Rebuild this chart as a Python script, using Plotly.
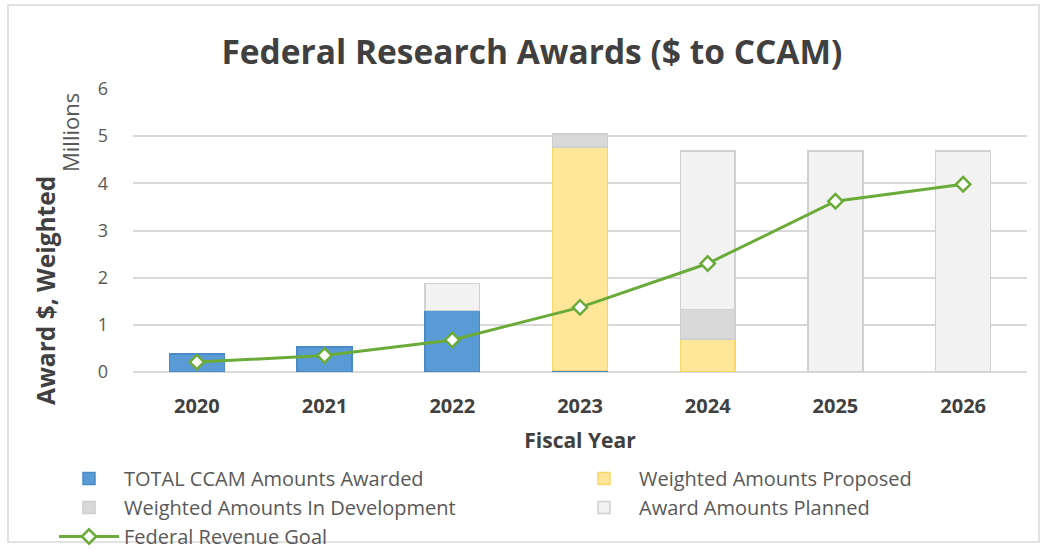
import plotly.graph_objects as go

years = ["2020", "2021", "2022", "2023", "2024", "2025", "2026"]
awarded = [0.38, 0.53, 1.30, 0.03, None, None, None]
proposed = [None, None, None, 4.74, 0.70, None, None]
development = [None, None, None, 0.28, 0.63, None, None]
planned = [None, None, 0.58, None, 3.36, 4.69, 4.69]
goal = [0.21, 0.35, 0.68, 1.37, 2.30, 3.62, 3.98]

FONT = "Open Sans"
fig = go.Figure()
bar_specs = [
    ("TOTAL CCAM Amounts Awarded", awarded, "#5B9BD5", "#4A8AC8", "legend"),
    ("Weighted Amounts Proposed", proposed, "#FFE699", "#F7D76B", "legend2"),
    ("Weighted Amounts In Development", development, "#D9D9D9", "#CFCFCF", "legend"),
    ("Award Amounts Planned", planned, "#F2F2F2", "#D0D0D0", "legend2"),
]
for name, vals, col, lc, lg in bar_specs:
    fig.add_trace(go.Bar(x=years, y=vals, name=name, legend=lg,
                         marker=dict(color=col, line=dict(color=lc, width=1.5))))
fig.add_trace(go.Scatter(x=years, y=goal, name="Federal Revenue Goal", mode="lines+markers",
                         legend="legend",
                         line=dict(color="#6AAB3A", width=3),
                         marker=dict(symbol="diamond", size=11, color="white",
                                     line=dict(color="#6AAB3A", width=2.5))))

legend_common = dict(orientation="v", xref="container", yref="container",
                     xanchor="left", yanchor="top", traceorder="normal",
                     font=dict(size=20, color="#595959", family=FONT),
                     itemwidth=60, bgcolor="rgba(0,0,0,0)", tracegroupgap=0)

fig.update_layout(
    width=1045, height=550,
    barmode="stack", bargap=0.57,
    plot_bgcolor="white", paper_bgcolor="white",
    margin=dict(l=133, r=18, t=89, b=178, autoexpand=False),
    font=dict(family=FONT, color="#595959", size=18),
    title=dict(text="<b>Federal Research Awards ($ to CCAM)</b>", x=0.509, xanchor="center",
               y=0.905, yanchor="middle", font=dict(size=33.5, color="#404040", family=FONT)),
    xaxis=dict(showgrid=False, showline=False, ticks="", ticklabelstandoff=20,
               tickfont=dict(size=20, color="#404040", family=FONT),
               tickprefix="<b>", ticksuffix="</b>",
               title=dict(text="<b>Fiscal Year</b>", standoff=15,
                          font=dict(size=21, color="#404040", family=FONT))),
    yaxis=dict(range=[0, 6], dtick=1, showgrid=True, gridcolor="#D9D9D9", gridwidth=2,
               zeroline=True, zerolinecolor="#D9D9D9", zerolinewidth=2,
               ticklabelstandoff=24, tickfont=dict(size=18, color="#595959", family=FONT)),
    legend=dict(x=54 / 1045, y=1 - 459 / 550, **legend_common),
    legend2=dict(x=569 / 1045, y=1 - 459 / 550, **legend_common),
    showlegend=True,
)
fig.add_annotation(text="<b>Award $, Weighted</b>", xref="paper", yref="paper",
                   x=-88 / 894, y=(372 - 291) / 283, textangle=-90, showarrow=False,
                   xanchor="center", yanchor="middle",
                   font=dict(size=24.5, color="#404040", family=FONT))
fig.add_annotation(text="Millions", xref="paper", yref="paper",
                   x=-63 / 894, y=(372 - 133) / 283, textangle=-90, showarrow=False,
                   xanchor="center", yanchor="middle",
                   font=dict(size=22, color="#595959", family=FONT))
fig.add_shape(type="rect", xref="paper", yref="paper",
              x0=-125 / 894, x1=1 + 12 / 894, y0=-170 / 283, y1=1 + 84 / 283,
              line=dict(color="#D9D9D9", width=1.5), fillcolor="rgba(0,0,0,0)", layer="below")
fig.write_html("out.html")
